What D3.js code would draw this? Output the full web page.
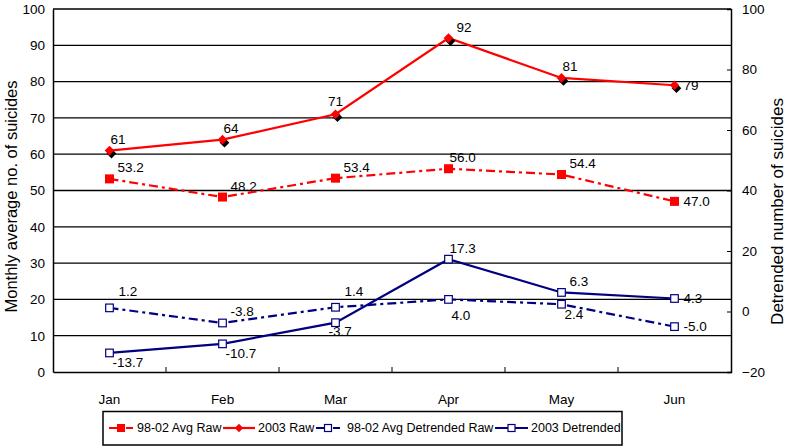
<!DOCTYPE html>
<html><head><meta charset="utf-8">
<script src="https://cdn.jsdelivr.net/npm/d3@7"></script>
<style>
body{margin:0;background:#fff;}
svg text{font-family:"Liberation Sans",Arial,Helvetica,sans-serif;fill:#000;}
</style></head>
<body>
<svg id="chart" width="786" height="446"></svg>
<script>
const months = ["Jan","Feb","Mar","Apr","May","Jun"];
const avgRaw = [53.2,48.2,53.4,56.0,54.4,47.0];
const raw2003 = [61,64,71,92,81,79];
const avgDetrended = [1.2,-3.8,1.4,4.0,2.4,-5.0];
const det2003 = [-13.7,-10.7,-3.7,17.3,6.3,4.3];
const leftTicks = [0,10,20,30,40,50,60,70,80,90,100];
const rightTicks = [-20,0,20,40,60,80,100];
const seriesNames = ["98-02 Avg Raw","2003 Raw","98-02 Avg Detrended Raw","2003 Detrended"];

// label placement codes
const avgRawLab = ["UR","UR","UR","U","UR","R"];
const raw2003Lab = ["U","U","UC","UR","U","R"];
const avgDetLab = ["UU","UR","UU","DD","D","R"];
const det2003Lab = ["D","D","DL","U","UR","R"];
const place = {
  U:{dx:1,dy:-11,a:"start"}, UC:{dx:0,dy:-13,a:"middle"}, UR:{dx:8,dy:-11,a:"start"},
  UU:{dx:9,dy:-16,a:"start"}, R:{dx:9,dy:0,a:"start"}, D:{dx:3,dy:10,a:"start"},
  DD:{dx:3,dy:16,a:"start"}, DL:{dx:-7,dy:9,a:"start"}
};

const svg = d3.select("#chart");
const L=53, R=731, T=9, B=372;
const x = d3.scaleBand().domain(months).range([L,R]);
const cx = m => x(m) + x.bandwidth()/2;
const yL = d3.scaleLinear().domain([0,100]).range([B,T]);
const yR = d3.scaleLinear().domain([-20,100]).range([B,T]);
const RED="#ff0000", BLUE="#000080";
const FONT="Liberation Sans, Arial, sans-serif";

// gridlines
svg.append("g").selectAll("line").data(leftTicks.filter(d=>d>0)).join("line")
  .attr("x1",L).attr("x2",R).attr("y1",d=>yL(d)).attr("y2",d=>yL(d))
  .attr("stroke","#000").attr("stroke-width",1.3);

// left axis
const gl = svg.append("g").attr("transform",`translate(${L},0)`)
  .call(d3.axisLeft(yL).tickValues(leftTicks).tickSize(0).tickPadding(8));
gl.select(".domain").attr("stroke","#000").attr("stroke-width",1.5);
gl.selectAll("text").style("font-size","13.5px").style("font-family",FONT);

// right axis
const gr = svg.append("g").attr("transform",`translate(${R},0)`)
  .call(d3.axisRight(yR).tickValues(rightTicks).tickSize(-4).tickPadding(11));
gr.select(".domain").attr("stroke","#000").attr("stroke-width",1.5);
gr.selectAll(".tick line").attr("stroke","#000");
gr.selectAll("text").style("font-size","13.5px").style("font-family",FONT);

// bottom axis
const gb = svg.append("g").attr("transform",`translate(0,${B})`)
  .call(d3.axisBottom(x).tickSize(0).tickPadding(22));
gb.select(".domain").attr("stroke","#000").attr("stroke-width",1.5);
gb.selectAll("text").style("font-size","13.5px").style("font-family",FONT);
svg.append("g").selectAll("line").data(months.slice(1)).join("line")
  .attr("x1",d=>x(d)).attr("x2",d=>x(d)).attr("y1",B).attr("y2",B-5)
  .attr("stroke","#000").attr("stroke-width",1);

// axis titles
svg.append("text").attr("transform",`translate(11,196.5) rotate(-90)`)
  .attr("text-anchor","middle").attr("dominant-baseline","central")
  .style("font-size","16.5px").text("Monthly average no. of suicides");
svg.append("text").attr("transform",`translate(777,211.5) rotate(-90)`)
  .attr("text-anchor","middle").attr("dominant-baseline","central")
  .style("font-size","17px").text("Detrended number of suicides");

function drawLine(vals, y, color, dash){
  const line = d3.line().x((d,i)=>cx(months[i])).y(d=>y(d));
  svg.append("path").datum(vals).attr("d",line).attr("fill","none")
    .attr("stroke",color).attr("stroke-width",2.2)
    .attr("stroke-dasharray",dash||null);
}
function drawLabels(vals, y, codes, fmt){
  svg.append("g").selectAll("text").data(vals).join("text")
    .attr("x",(d,i)=>cx(months[i])+place[codes[i]].dx)
    .attr("y",(d,i)=>y(d)+place[codes[i]].dy)
    .attr("text-anchor",(d,i)=>place[codes[i]].a)
    .attr("dominant-baseline","central")
    .style("font-size","13.5px").text(d=>fmt(d));
}
const DASH = "9,4,3,4";

// lines
drawLine(avgRaw, yL, RED, DASH);
drawLine(raw2003, yL, RED);
drawLine(avgDetrended, yR, BLUE, DASH);
drawLine(det2003, yR, BLUE);

// markers: avgRaw squares
svg.append("g").selectAll("rect").data(avgRaw).join("rect")
  .attr("x",(d,i)=>cx(months[i])-4.5).attr("y",d=>yL(d)-4.5)
  .attr("width",9).attr("height",9).attr("fill",RED);
// raw2003 diamonds with black shadow
const diamond = d3.symbol().type(d3.symbolDiamond2).size(60);
svg.append("g").selectAll("path").data(raw2003).join("path")
  .attr("d",diamond).attr("transform",(d,i)=>`translate(${cx(months[i])+2},${yL(d)+3})`)
  .attr("fill","#000");
svg.append("g").selectAll("path").data(raw2003).join("path")
  .attr("d",diamond).attr("transform",(d,i)=>`translate(${cx(months[i])},${yL(d)})`)
  .attr("fill",RED);
// detrended hollow squares
[avgDetrended, det2003].forEach(vals=>{
  svg.append("g").selectAll("rect").data(vals).join("rect")
    .attr("x",(d,i)=>cx(months[i])-3.8).attr("y",d=>yR(d)-3.8)
    .attr("width",7.6).attr("height",7.6).attr("fill","#fff")
    .attr("stroke",BLUE).attr("stroke-width",1.2);
});

// labels
drawLabels(avgRaw, yL, avgRawLab, d=>d.toFixed(1));
drawLabels(raw2003, yL, raw2003Lab, d=>d3.format("d")(d));
drawLabels(avgDetrended, yR, avgDetLab, d=>d.toFixed(1));
drawLabels(det2003, yR, det2003Lab, d=>d.toFixed(1));

// legend
const lg = svg.append("g");
lg.append("rect").attr("x",103).attr("y",411.5).attr("width",519).attr("height",33.5)
  .attr("fill","#fff").attr("stroke","#000").attr("stroke-width",1.5);
const legendX = [{x1:109,x2:133,t:137},{x1:223,x2:255,t:258},{x1:316,x2:340,t:347},{x1:495,x2:528,t:531}];
const legendStyle = [
  {c:RED,dash:DASH,m:"sq"},{c:RED,dash:null,m:"dia"},{c:BLUE,dash:DASH,m:"hsq"},{c:BLUE,dash:null,m:"hsq"}
];
const ly = 428;
seriesNames.forEach((name,i)=>{
  const p = legendX[i], s = legendStyle[i], mx=(p.x1+p.x2)/2;
  lg.append("line").attr("x1",p.x1).attr("x2",p.x2).attr("y1",ly).attr("y2",ly)
    .attr("stroke",s.c).attr("stroke-width",2.2).attr("stroke-dasharray",s.dash?"8,3,3,3":null);
  if(s.m==="sq") lg.append("rect").attr("x",mx-4).attr("y",ly-4).attr("width",8).attr("height",8).attr("fill",s.c);
  if(s.m==="dia") lg.append("path").attr("d",d3.symbol().type(d3.symbolDiamond2).size(45)).attr("transform",`translate(${mx},${ly})`).attr("fill",s.c);
  if(s.m==="hsq") lg.append("rect").attr("x",mx-3.5).attr("y",ly-3.5).attr("width",7).attr("height",7).attr("fill","#fff").attr("stroke",s.c).attr("stroke-width",1.2);
  lg.append("text").attr("x",p.t).attr("y",ly).attr("dominant-baseline","central")
    .style("font-size","12.5px").text(name);
});
</script>
</body></html>
